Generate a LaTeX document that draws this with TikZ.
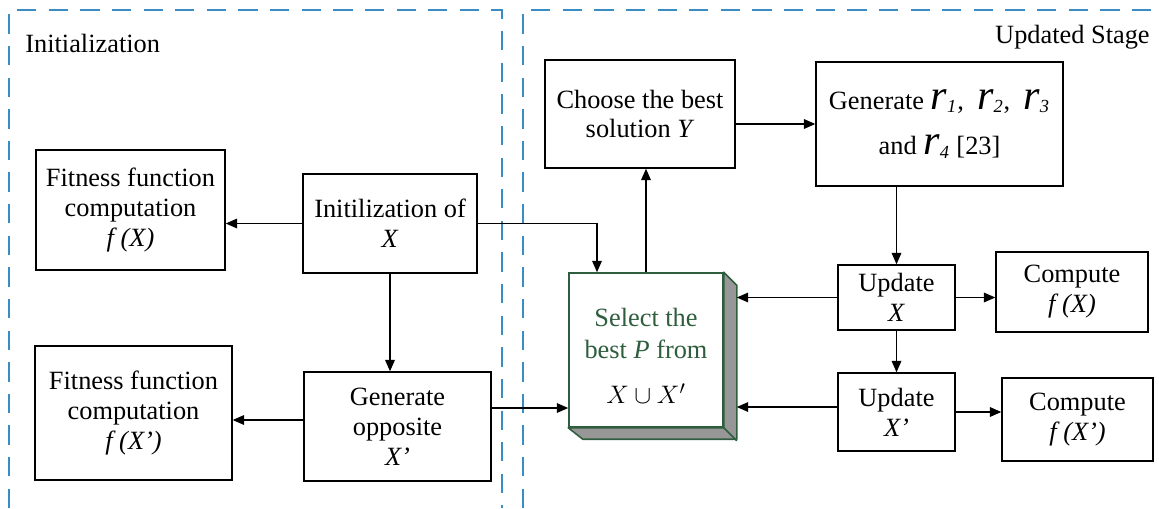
\documentclass[tikz,border=0pt]{standalone}
\usepackage{fontspec}
\setmainfont{Liberation Serif}
\usetikzlibrary{arrows.meta,calc}
\definecolor{dashblue}{HTML}{3A8CC4}
\definecolor{selgreen}{HTML}{2F5E3E}
\definecolor{selgray}{HTML}{979797}
\newcommand{\rsub}[1]{{\fontsize{24}{17}\selectfont\textit{r}}\textsubscript{\textit{#1}}}
\tikzset{
  box/.style={draw, line width=0.8pt, align=center, inner sep=0pt},
  sz/.style 2 args={minimum width=#1*0.02cm, minimum height=#2*0.02cm},
  arr/.style={-{Triangle[length=6.5pt,width=5.5pt]}, line width=0.7pt},
  region/.style={draw=dashblue, line width=1.1pt, dash pattern=on 11pt off 7pt}
}
\begin{document}
\begin{tikzpicture}[x=0.02cm,y=-0.02cm, font=\fontsize{15}{17}\selectfont]
\useasboundingbox (0,0) rectangle (1159,508);

% regions
\draw[region] (9,508) -- (9,10) -- (502,10) -- (502,508);
\draw[region] (523,508) -- (523,10) -- (1159,10);
\node[anchor=west, inner sep=0pt] (initlbl) at (25,43) {Initialization};
\node[anchor=east, inner sep=0pt] (updlbl) at (1150,37) {Updated Stage};

% left nodes
\node[box, sz={189}{120}] (fx) at (130.5,210) {Fitness function\\computation\\\textit{f (X)}};
\node[box, sz={174}{99}] (init) at (390,223.5) {Initilization of\\\textit{X}};
\node[box, sz={197}{134}] (fxp) at (133.5,413) {Fitness function\\computation\\\textit{f (X’)}};
\node[box, sz={187}{109}] (gen) at (397.5,426.5) {Generate\\opposite\\\textit{X’}};

% right nodes
\node[box, sz={190}{108}] (choose) at (640,114) {Choose the best\\solution \textit{Y}};
\node[box, sz={247}{124}] (genr) at (939.5,124) {Generate \rsub{1},\enspace\rsub{2},\enspace\rsub{3}\\[9pt]and \rsub{4} [23]};
\node[box, sz={117}{65}] (upx) at (896.5,297.5) {Update\\\textit{X}};
\node[box, sz={152}{80}] (cfx) at (1072,292) {Compute\\\textit{f (X)}};
\node[box, sz={117}{78}] (upxp) at (896.5,412) {Update\\\textit{X’}};
\node[box, sz={151}{83}] (cfxp) at (1077.5,419.5) {Compute\\\textit{f (X’)}};

% select box with depth
\node[draw=selgreen, line width=0.9pt, fill=white, sz={154}{154}, inner sep=0pt] (sel) at (646,350) {};
\filldraw[fill=selgray, draw=selgreen, line width=0.9pt, line join=round] (sel.north east) -- ++(13,13) -- ++(0,154) -- ++(-154,0) -- (sel.south west) -- (sel.south east) -- cycle;
\draw[selgreen, line width=0.9pt] (sel.south east) -- ++(13,13);
\node[align=center, text=selgreen, inner sep=0pt] (seltxt) at (646,356) {Select the\\[1pt]best \textit{P} from\\[9pt]\textcolor{black}{$X\cup X'$}};
\coordinate (selR) at ($(sel.east)+(13,0)$);
\coordinate (selIn) at ($(sel.north)+(-49,0)$);

% connectors
\draw[arr] (init.west) -- (init.west -| fx.east);
\draw[arr] (init.south) -- (init.south |- gen.north);
\draw[arr] (init.east) -| (selIn);
\draw[arr] ([yshift=0.37cm]gen.east) -- ([yshift=0.37cm]gen.east -| sel.west);
\draw[arr] ([yshift=0.13cm]gen.west) -- ([yshift=0.13cm]gen.west -| fxp.east);
\draw[arr] (sel.north) -- (sel.north |- choose.south);
\draw[arr] (choose.east |- genr.west) -- (genr.west);
\draw[arr] (upx.north |- genr.south) -- (upx.north);
\draw[arr] (upx.west) -- (selR |- upx.west);
\draw[arr] (upx.east) -- (upx.east -| cfx.west);
\draw[arr] (upx.south) -- (upxp.north);
\draw[arr] ([yshift=0.1cm]upxp.west) -- ([yshift=0.1cm]upxp.west -| selR);
\draw[arr] (upxp.east) -- (upxp.east -| cfxp.west);
\end{tikzpicture}
\end{document}
